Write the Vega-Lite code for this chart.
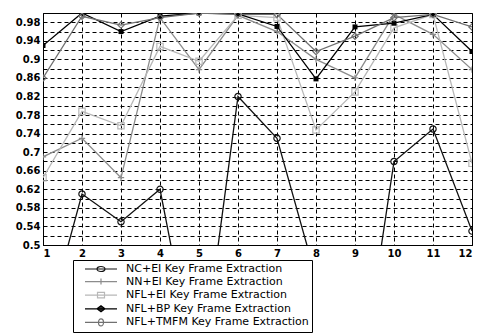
{
  "$schema": "https://vega.github.io/schema/vega-lite/v6.json",
  "width": 429,
  "height": 232,
  "autosize": "none",
  "padding": {"left": 43, "top": 13, "right": 5, "bottom": 89},
  "background": "#ffffff",
  "config": {
    "view": {"stroke": "#000", "strokeWidth": 1},
    "axis": {
      "labelFont": "DejaVu Sans", "labelFontSize": 10, "labelFontWeight": "bold", "labelColor": "#000",
      "domainColor": "#000", "tickSize": 0, "gridColor": "#000", "gridDash": [4, 3], "gridOpacity": 1, "gridWidth": 1, "title": null
    }
  },
  "data": {"values": [
    {"x": 1, "v": 0.30, "s": "NC+EI Key Frame Extraction"},
    {"x": 2, "v": 0.61, "s": "NC+EI Key Frame Extraction"},
    {"x": 3, "v": 0.55, "s": "NC+EI Key Frame Extraction"},
    {"x": 4, "v": 0.62, "s": "NC+EI Key Frame Extraction"},
    {"x": 5, "v": 0.19, "s": "NC+EI Key Frame Extraction"},
    {"x": 6, "v": 0.82, "s": "NC+EI Key Frame Extraction"},
    {"x": 7, "v": 0.73, "s": "NC+EI Key Frame Extraction"},
    {"x": 8, "v": 0.43, "s": "NC+EI Key Frame Extraction"},
    {"x": 9, "v": 0.12, "s": "NC+EI Key Frame Extraction"},
    {"x": 10, "v": 0.68, "s": "NC+EI Key Frame Extraction"},
    {"x": 11, "v": 0.75, "s": "NC+EI Key Frame Extraction"},
    {"x": 12, "v": 0.53, "s": "NC+EI Key Frame Extraction"},
    {"x": 1, "v": 0.69, "s": "NN+EI Key Frame Extraction"},
    {"x": 2, "v": 0.73, "s": "NN+EI Key Frame Extraction"},
    {"x": 3, "v": 0.645, "s": "NN+EI Key Frame Extraction"},
    {"x": 4, "v": 0.99, "s": "NN+EI Key Frame Extraction"},
    {"x": 5, "v": 0.878, "s": "NN+EI Key Frame Extraction"},
    {"x": 6, "v": 0.995, "s": "NN+EI Key Frame Extraction"},
    {"x": 7, "v": 0.96, "s": "NN+EI Key Frame Extraction"},
    {"x": 8, "v": 0.90, "s": "NN+EI Key Frame Extraction"},
    {"x": 9, "v": 0.86, "s": "NN+EI Key Frame Extraction"},
    {"x": 10, "v": 0.997, "s": "NN+EI Key Frame Extraction"},
    {"x": 11, "v": 0.954, "s": "NN+EI Key Frame Extraction"},
    {"x": 12, "v": 0.878, "s": "NN+EI Key Frame Extraction"},
    {"x": 1, "v": 0.645, "s": "NFL+EI Key Frame Extraction"},
    {"x": 2, "v": 0.788, "s": "NFL+EI Key Frame Extraction"},
    {"x": 3, "v": 0.757, "s": "NFL+EI Key Frame Extraction"},
    {"x": 4, "v": 0.928, "s": "NFL+EI Key Frame Extraction"},
    {"x": 5, "v": 0.896, "s": "NFL+EI Key Frame Extraction"},
    {"x": 6, "v": 0.995, "s": "NFL+EI Key Frame Extraction"},
    {"x": 7, "v": 0.99, "s": "NFL+EI Key Frame Extraction"},
    {"x": 8, "v": 0.748, "s": "NFL+EI Key Frame Extraction"},
    {"x": 9, "v": 0.83, "s": "NFL+EI Key Frame Extraction"},
    {"x": 10, "v": 0.968, "s": "NFL+EI Key Frame Extraction"},
    {"x": 11, "v": 0.997, "s": "NFL+EI Key Frame Extraction"},
    {"x": 12, "v": 0.676, "s": "NFL+EI Key Frame Extraction"},
    {"x": 1, "v": 0.93, "s": "NFL+BP Key Frame Extraction"},
    {"x": 2, "v": 1.0, "s": "NFL+BP Key Frame Extraction"},
    {"x": 3, "v": 0.96, "s": "NFL+BP Key Frame Extraction"},
    {"x": 4, "v": 0.993, "s": "NFL+BP Key Frame Extraction"},
    {"x": 5, "v": 1.0, "s": "NFL+BP Key Frame Extraction"},
    {"x": 6, "v": 0.998, "s": "NFL+BP Key Frame Extraction"},
    {"x": 7, "v": 0.971, "s": "NFL+BP Key Frame Extraction"},
    {"x": 8, "v": 0.858, "s": "NFL+BP Key Frame Extraction"},
    {"x": 9, "v": 0.97, "s": "NFL+BP Key Frame Extraction"},
    {"x": 10, "v": 0.978, "s": "NFL+BP Key Frame Extraction"},
    {"x": 11, "v": 0.997, "s": "NFL+BP Key Frame Extraction"},
    {"x": 12, "v": 0.917, "s": "NFL+BP Key Frame Extraction"},
    {"x": 1, "v": 0.86, "s": "NFL+TMFM Key Frame Extraction"},
    {"x": 2, "v": 0.993, "s": "NFL+TMFM Key Frame Extraction"},
    {"x": 3, "v": 0.974, "s": "NFL+TMFM Key Frame Extraction"},
    {"x": 4, "v": 0.99, "s": "NFL+TMFM Key Frame Extraction"},
    {"x": 5, "v": 1.0, "s": "NFL+TMFM Key Frame Extraction"},
    {"x": 6, "v": 0.997, "s": "NFL+TMFM Key Frame Extraction"},
    {"x": 7, "v": 0.997, "s": "NFL+TMFM Key Frame Extraction"},
    {"x": 8, "v": 0.917, "s": "NFL+TMFM Key Frame Extraction"},
    {"x": 9, "v": 0.95, "s": "NFL+TMFM Key Frame Extraction"},
    {"x": 10, "v": 0.99, "s": "NFL+TMFM Key Frame Extraction"},
    {"x": 11, "v": 0.997, "s": "NFL+TMFM Key Frame Extraction"},
    {"x": 12, "v": 0.97, "s": "NFL+TMFM Key Frame Extraction"}
  ]},
  "encoding": {
    "x": {"field": "x", "type": "quantitative",
      "scale": {"domain": [1, 12], "nice": false, "zero": false},
      "axis": {"values": [1,2,3,4,5,6,7,8,9,10,11,12], "labelPadding": 3, "format": "d"}},
    "y": {"field": "v", "type": "quantitative",
      "scale": {"domain": [0.5, 1.0], "nice": false, "zero": false},
      "axis": {"values": [0.5,0.52,0.54,0.56,0.58,0.6,0.62,0.64,0.66,0.68,0.7,0.72,0.74,0.76,0.78,0.8,0.82,0.84,0.86,0.88,0.9,0.92,0.94,0.96,0.98], "format": "~g", "labelPadding": 3}}
  },
  "layer": [
    {
      "mark": {"type": "line", "clip": true, "strokeWidth": 1.3},
      "encoding": {
        "color": {"field": "s", "type": "nominal",
          "scale": {"domain": ["NC+EI Key Frame Extraction", "NN+EI Key Frame Extraction", "NFL+EI Key Frame Extraction", "NFL+BP Key Frame Extraction", "NFL+TMFM Key Frame Extraction"],
                    "range": ["#111111", "#8c8c8c", "#b8b8b8", "#000000", "#707070"]},
          "legend": {
            "orient": "none", "legendX": 30, "legendY": 247, "title": null,
            "strokeColor": "#000", "fillColor": "#fff", "padding": 3,
            "labelFont": "DejaVu Sans", "labelFontSize": 11, "labelColor": "#000", "labelLimit": 0,
            "symbolSize": 100, "symbolStrokeWidth": 1.2, "labelOffset": 38, "rowPadding": 1.6,
            "encode": {"symbols": {"update": {
              "x": {"value": 25},
              "shape": {"signal": "datum.value === 'NC+EI Key Frame Extraction' ? 'M-3.2,0H3.2M-0.8,0A0.8,0.5 0 1,0 0.8,0A0.8,0.5 0 1,0 -0.8,0Z' : datum.value === 'NN+EI Key Frame Extraction' ? 'M-3.2,0H3.2M0,-0.6V0.6' : datum.value === 'NFL+EI Key Frame Extraction' ? 'M-3.2,0H3.2M-0.7,-0.55H0.7V0.55H-0.7Z' : datum.value === 'NFL+BP Key Frame Extraction' ? 'M-3.2,0H3.2M-0.8,0L0,-0.6L0.8,0L0,0.6Z' : 'M-3.2,0H3.2M-0.5,0A0.5,0.7 0 1,0 0.5,0A0.5,0.7 0 1,0 -0.5,0Z'"},
              "fill": {"signal": "datum.value === 'NFL+BP Key Frame Extraction' ? '#333' : 'transparent'"}
            }}}
          }}
      }
    },
    {
      "transform": [{"filter": "datum.s === 'NC+EI Key Frame Extraction'"}],
      "mark": {"type": "point", "clip": true, "size": 40, "strokeWidth": 1.2, "shape": "circle", "color": "#111111", "filled": false, "opacity": 1}
    },
    {
      "transform": [{"filter": "datum.s === 'NN+EI Key Frame Extraction'"}],
      "mark": {"type": "point", "clip": true, "size": 40, "strokeWidth": 1.2, "shape": "M-1,0H1M0,-1V1", "color": "#8c8c8c", "filled": false, "opacity": 1}
    },
    {
      "transform": [{"filter": "datum.s === 'NFL+EI Key Frame Extraction'"}],
      "mark": {"type": "point", "clip": true, "size": 40, "strokeWidth": 1.2, "shape": "square", "color": "#b8b8b8", "filled": false, "opacity": 1}
    },
    {
      "transform": [{"filter": "datum.s === 'NFL+BP Key Frame Extraction'"}],
      "mark": {"type": "point", "clip": true, "size": 25, "strokeWidth": 1, "shape": "square", "color": "#000000", "filled": true, "opacity": 1}
    },
    {
      "transform": [{"filter": "datum.s === 'NFL+TMFM Key Frame Extraction'"}],
      "mark": {"type": "point", "clip": true, "size": 40, "strokeWidth": 1.2, "shape": "diamond", "color": "#707070", "filled": false, "opacity": 1}
    }
  ]
}
